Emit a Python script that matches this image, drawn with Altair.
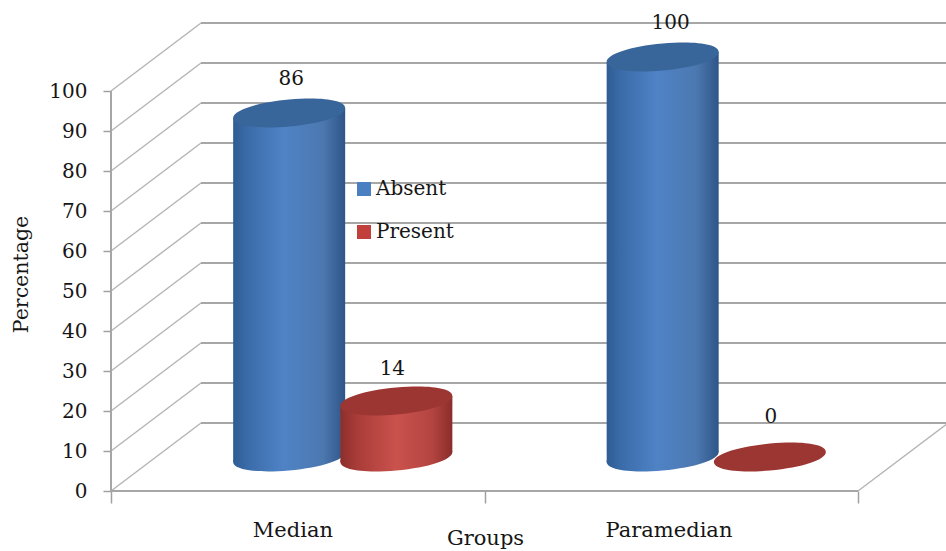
import altair as alt
import pandas as pd

# Chart values
GROUPS = ["Median", "Paramedian"]
SERIES = ["Absent", "Present"]
ABSENT = [86, 100]
PRESENT = [14, 0]
LEVELS = list(range(0, 101, 10))

# Projection of the oblique box, in axis units
PX_PER_GROUP = 373.5
PX_PER_PCT = 4.0
DEPTH_X = 90 / PX_PER_GROUP
DEPTH_Y = 68 / PX_PER_PCT
SERIES_OFFSET = {"Absent": 0.477, "Present": 0.764}
HALF_WIDTH = 56 / PX_PER_GROUP
TILT = 5 / PX_PER_PCT
LABEL_LIFT = 17.25
LABEL_NUDGE = {("Median", "Absent"): (2, 1), ("Median", "Present"): (-4, 3),
               ("Paramedian", "Absent"): (8, 1), ("Paramedian", "Present"): (1, -5)}
NAME_POSITIONS = [0.487, 1.494]

FONT = "DejaVu Serif"
TEXT = "#161616"
CYLINDER_SIZE = 112 ** 2


def ellipse_path(a=0.09, b=0.24, k=0.58):
    """Sheared ellipse in the [-1, 1] box used by custom symbols."""
    def pt(c, s):
        return f"{c:.4f} {-a * c + b * s:.4f}"
    return (f"M{pt(1, 0)} C{pt(1, k)} {pt(k, 1)} {pt(0, 1)} "
            f"C{pt(-k, 1)} {pt(-1, k)} {pt(-1, 0)} "
            f"C{pt(-1, -k)} {pt(-k, -1)} {pt(0, -1)} "
            f"C{pt(k, -1)} {pt(1, -k)} {pt(1, 0)} Z")


def side_gradient(stops):
    return alt.LinearGradient(
        gradient="linear", x1=0, x2=1, y1=0, y2=0,
        stops=[alt.GradientStop(color=c, offset=o) for o, c in stops],
    )


SHADES = {
    "Absent": {
        "side": side_gradient([(0, "#2f5c92"), (0.12, "#3a6ba8"), (0.45, "#4f83c6"),
                               (0.8, "#4c78b0"), (1, "#2e5587")]),
        "top": "#38659a",
        "swatch": "#4a7fc2",
    },
    "Present": {
        "side": side_gradient([(0, "#8c2f2c"), (0.15, "#a93c38"), (0.5, "#ca524d"),
                               (0.82, "#b44440"), (1, "#8a2d2b")]),
        "top": "#9c3632",
        "swatch": "#c2403c",
    },
}

x_scale = alt.Scale(domain=[0, 835 / PX_PER_GROUP], nice=False, zero=False)
y_scale = alt.Scale(domain=[0, 491 / PX_PER_PCT], nice=False, zero=False)
X = alt.X("x:Q", scale=x_scale)
Y = alt.Y("y:Q", scale=y_scale, stack=None)

# Walls and floor of the box
diagonals = pd.DataFrame(
    [{"x": 0, "x2": DEPTH_X, "y": v, "y2": v + DEPTH_Y} for v in LEVELS]
    + [{"x": 2, "x2": 2 + DEPTH_X, "y": 0, "y2": DEPTH_Y}]
)
back_lines = pd.DataFrame(
    [{"x": DEPTH_X, "x2": 2 + DEPTH_X, "y": v + DEPTH_Y, "y2": v + DEPTH_Y} for v in LEVELS]
)
front_lines = pd.DataFrame([
    {"x": 0, "x2": 0, "y": 0, "y2": 100},
    {"x": 0, "x2": 2, "y": 0, "y2": 0},
])


def rules(frame, color, width):
    return alt.Chart(frame).mark_rule(color=color, strokeWidth=width).encode(
        x=X, x2="x2:Q", y=Y, y2="y2:Q"
    )


# Axes carry the ticks, the value labels and both titles
axes = alt.Chart(pd.DataFrame({"x": [0.0], "y": [0.0]})).mark_point(opacity=0).encode(
    x=alt.X("x:Q", scale=x_scale, title="Groups", axis=alt.Axis(
        values=[0, 1, 2], labels=False, domain=False, grid=False,
        tickSize=12, tickColor="#a0a0a0", tickWidth=1.5,
        title="Groups", titleFont=FONT, titleFontSize=21, titleFontWeight="normal",
        titleColor=TEXT, titleX=374, titleY=36,
    )),
    y=alt.Y("y:Q", scale=y_scale, title="Percentage", axis=alt.Axis(
        values=LEVELS, domain=False, grid=False,
        tickSize=8, tickColor="#a0a0a0", tickWidth=1.5,
        labelFont=FONT, labelFontSize=20, labelColor=TEXT, labelPadding=16,
        title="Percentage", titleFont=FONT, titleFontSize=20.5, titleFontWeight="normal",
        titleColor=TEXT, titleX=-80, titleY=274,
    )),
)

layers = [
    axes,
    rules(diagonals, "#b4b4b4", 1.4),
    rules(back_lines, "#a6a6a6", 2),
    rules(front_lines, "#a6a6a6", 2),
]

# One cylinder per group and series
ELLIPSE = ellipse_path()
records = []
for i, group in enumerate(GROUPS):
    for series, values in zip(SERIES, (ABSENT, PRESENT)):
        records.append({"group": group, "series": series, "value": values[i],
                        "center": i + SERIES_OFFSET[series]})

for rec in records:
    shade = SHADES[rec["series"]]
    floor_y = DEPTH_Y / 2
    top_y = rec["value"] + DEPTH_Y / 2
    anchor = pd.DataFrame({"x": [rec["center"]], "floor": [floor_y], "y": [top_y]})
    if rec["value"] > 0:
        bottom = alt.Chart(anchor).mark_point(
            shape=ELLIPSE, size=CYLINDER_SIZE, filled=True, opacity=1,
            fill=shade["side"], strokeWidth=0,
        ).encode(x=X, y=alt.Y("floor:Q", scale=y_scale))
        side = pd.DataFrame({
            "x": [rec["center"] - HALF_WIDTH, rec["center"] + HALF_WIDTH],
            "y": [top_y - TILT, top_y + TILT],
            "base": [floor_y - TILT, floor_y + TILT],
        })
        body = alt.Chart(side).mark_area(color=shade["side"]).encode(x=X, y=Y, y2="base:Q")
        layers += [bottom, body]
    layers.append(
        alt.Chart(anchor).mark_point(
            shape=ELLIPSE, size=CYLINDER_SIZE, filled=True, opacity=1,
            fill=shade["top"], strokeWidth=0,
        ).encode(x=X, y=Y)
    )

# Value labels above each cylinder
for rec in records:
    label = pd.DataFrame({"x": [rec["center"]], "y": [rec["value"] + LABEL_LIFT],
                          "text": [str(rec["value"])]})
    dx, dy = LABEL_NUDGE[(rec["group"], rec["series"])]
    layers.append(
        alt.Chart(label).mark_text(
            font=FONT, fontSize=20, color=TEXT, baseline="middle", dx=dx, dy=dy,
        ).encode(x=X, y=Y, text="text:N")
    )

# Category names under the floor
names = pd.DataFrame({"x": NAME_POSITIONS, "y": [-10.0, -10.0], "text": GROUPS})
layers.append(
    alt.Chart(names).mark_text(font=FONT, fontSize=21, color=TEXT, baseline="middle").encode(
        x=X, y=Y, text="text:N"
    )
)

# Legend, fed by invisible points so its swatches keep the flat series colours
legend_src = pd.DataFrame({"x": [0.0, 0.0], "y": [0.0, 0.0], "series": SERIES})
layers.append(
    alt.Chart(legend_src).mark_point(filled=True, opacity=0, size=1).encode(
        x=X, y=Y,
        color=alt.Color("series:N", scale=alt.Scale(
            domain=SERIES, range=[SHADES[s]["swatch"] for s in SERIES]
        ), legend=alt.Legend(
            title=None, orient="none", legendX=243, legendY=179,
            symbolType="square", symbolSize=196, symbolOpacity=1, symbolStrokeWidth=0,
            labelFont=FONT, labelFontSize=20, labelColor=TEXT, labelOffset=2,
            rowPadding=23, padding=0,
        )),
    )
)

chart = alt.layer(*layers).resolve_scale(x="shared", y="shared").properties(
    width=835, height=491,
    padding={"left": 111, "top": 0, "right": 0, "bottom": 60},
    autosize=alt.AutoSizeParams(type="none"),
    background="white",
).configure_view(stroke=None)

chart.save("out.html", embed_options={"renderer": "svg", "actions": False})
